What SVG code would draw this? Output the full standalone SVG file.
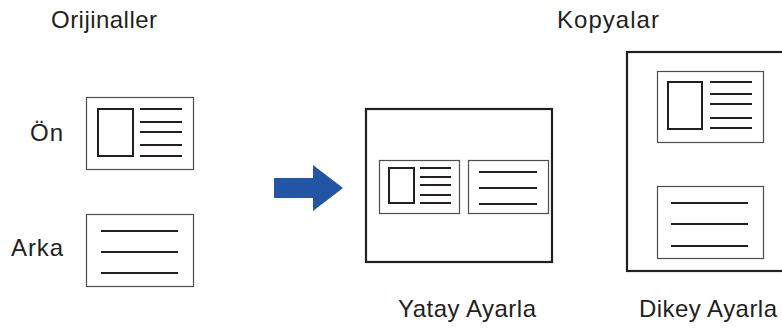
<svg xmlns="http://www.w3.org/2000/svg" width="782" height="329" viewBox="0 0 782 329">
<style>
text{font-family:"Liberation Sans",Arial,sans-serif;font-size:24px;fill:#231f20}
.card{fill:#fff;stroke:#4d4d4d;stroke-width:1.2}
.page{fill:#fff;stroke:#231f20;stroke-width:2.2}
.photo{fill:none;stroke:#231f20;stroke-width:2}
.ln{stroke:#231f20;stroke-width:2}
</style>
<rect width="782" height="329" fill="#fff"/>
<g id="labels">
<text x="51" y="28" textLength="106" lengthAdjust="spacing">Orijinaller</text>
<text x="557" y="28" textLength="102" lengthAdjust="spacing">Kopyalar</text>
<text x="30" y="141" textLength="33" lengthAdjust="spacing">Ön</text>
<text x="11" y="256" textLength="52" lengthAdjust="spacing">Arka</text>
<text x="398" y="317" textLength="138" lengthAdjust="spacing">Yatay Ayarla</text>
<text x="639" y="317" textLength="138" lengthAdjust="spacing">Dikey Ayarla</text>
</g>
<g id="orig-front">
<rect class="card" x="86.5" y="97.5" width="107" height="72"/>
<rect class="photo" x="98" y="109" width="35" height="47"/>
<path class="ln" d="M140 109H182M140 122H182M140 132H182M140 145H182M140 156H182"/>
</g>
<g id="orig-back">
<rect class="card" x="86.5" y="214.5" width="107" height="72"/>
<path class="ln" d="M101 231H178M101 252H178M101 273H178"/>
</g>
<g id="arrow">
<polygon points="274,178 313,178 313,165 343,188 313,211 313,198 274,198" fill="#2255a4"/>
</g>
<g id="copy-horizontal">
<rect class="page" x="366" y="109" width="186" height="153"/>
<rect class="card" x="379.5" y="160.5" width="80" height="53"/>
<rect class="photo" x="389" y="168" width="25" height="35"/>
<path class="ln" d="M420 168H451M420 177H451M420 185H451M420 195H451M420 203H451"/>
<rect class="card" x="468.5" y="160.5" width="80" height="53"/>
<path class="ln" d="M479 172H537M479 188H537M479 204H537"/>
</g>
<g id="copy-vertical">
<rect class="page" x="627" y="52" width="160" height="219"/>
<rect class="card" x="657.5" y="71.5" width="106" height="71"/>
<rect class="photo" x="668" y="82" width="34" height="47"/>
<path class="ln" d="M710 82H752M710 94H752M710 104H752M710 118H752M710 128H752"/>
<rect class="card" x="657.5" y="186.5" width="106" height="72"/>
<path class="ln" d="M671 203H748M671 224H748M671 246H748"/>
</g>
</svg>
